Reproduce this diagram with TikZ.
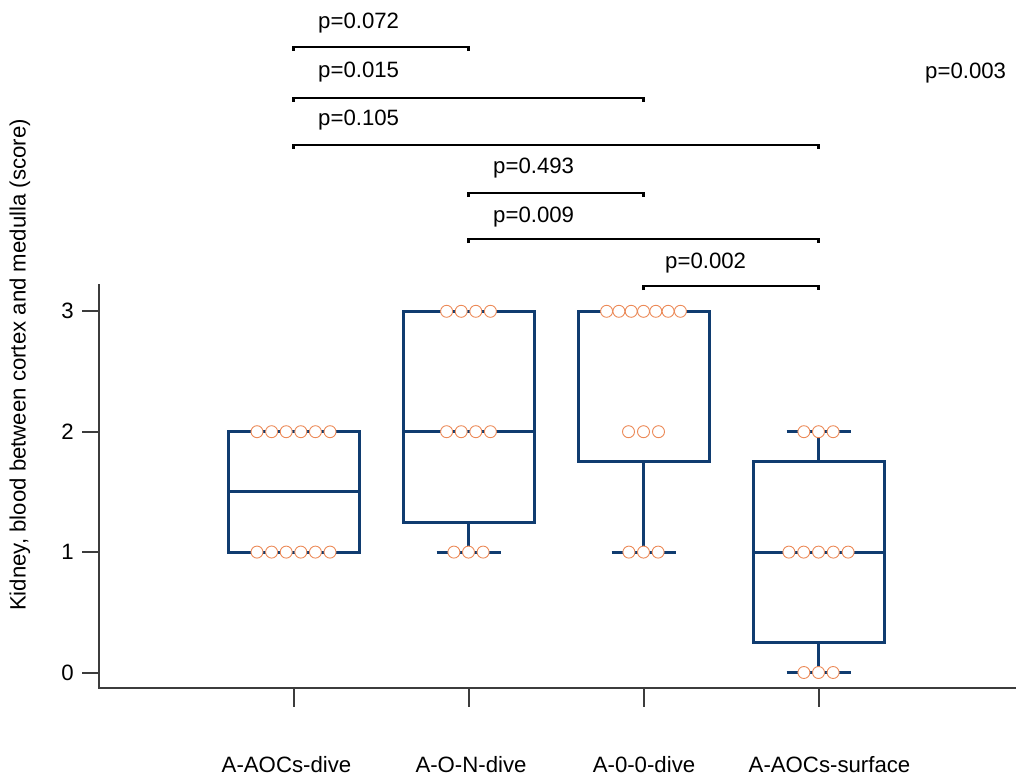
\documentclass[tikz,border=0pt]{standalone}
\usepackage{fontspec}
\setmainfont{Liberation Sans}
\definecolor{boxblue}{RGB}{16,60,112}
\definecolor{dotorange}{RGB}{236,138,88}
\definecolor{axisgray}{RGB}{60,60,60}
\begin{document}
\begin{tikzpicture}[x=1pt,y=-1pt,
  box/.style={draw=boxblue, line width=3pt},
  pt/.style={circle, draw=dotorange, fill=white, line width=0.9pt, minimum size=12pt, inner sep=0pt},
  axisline/.style={draw=axisgray, line width=2pt},
  sigbar/.style={draw=black, line width=2.5pt},
  lbl/.style={font=\fontsize{22.2}{26}\selectfont, text=black, inner sep=0pt}]
\useasboundingbox (0,0) rectangle (1016,778);

% axes
\coordinate (yaxtop) at (99,284);
\coordinate (origin) at (99,688);
\coordinate (xaxend) at (1016,688);
\draw[axisline] (yaxtop) -- (origin) -- (xaxend);

% y ticks
\foreach \v/\yy in {0/672.5,1/552.1,2/431.7,3/311.3}{
  \coordinate (yt\v) at (99,\yy);
  \draw[axisline] (yt\v) -- ++(-17,0);
  \node[lbl, anchor=east] (ytl\v) at (74,\yy) {\v};
}
% x ticks and category labels
\foreach \i/\xx/\lx/\name in {1/293.5/286.5/A-AOCs-dive,2/468.5/471/A-O-N-dive,3/643.5/644/A-0-0-dive,4/818.5/829.5/A-AOCs-surface}{
  \coordinate (xt\i) at (\xx,688);
  \draw[axisline] (xt\i) -- ++(0,19);
  \node[lbl] (cat\i) at (\lx,765) {\name};
}
% y label
\node[lbl, rotate=90] (ylab) at (20,365) {Kidney, blood between cortex and medulla (score)};

% box 1
\draw[box] (228,431.7) rectangle (359,552.1);
\draw[box] (228,491.9) -- (359,491.9);
% box 2
\draw[box] (468.5,522) -- (468.5,552.1);
\draw[box] (436.5,552.1) -- (500.5,552.1);
\draw[box] (403,311.3) rectangle (534,522);
\draw[box] (403,431.7) -- (534,431.7);
% box 3
\draw[box] (643.5,461.8) -- (643.5,552.1);
\draw[box] (611.5,552.1) -- (675.5,552.1);
\draw[box] (578,311.3) rectangle (709,461.8);
% box 4
\draw[box] (818.5,461.8) -- (818.5,431.7);
\draw[box] (786.5,431.7) -- (850.5,431.7);
\draw[box] (818.5,642.4) -- (818.5,672.5);
\draw[box] (786.5,672.5) -- (850.5,672.5);
\draw[box] (753,461.8) rectangle (884,642.4);
\draw[box] (753,552.1) -- (884,552.1);

% points: group/centre x/y/count/spacing
\foreach \g/\cx/\yy/\n/\s in {
  1/293.5/431.7/6/14.6, 1/293.5/552.1/6/14.6,
  2/468.5/311.3/4/14.6, 2/468.5/431.7/4/14.6, 2/468.5/552.1/3/14.6,
  3/643.5/311.3/7/12.3, 3/643.5/431.7/3/15, 3/643.5/552.1/3/14.6,
  4/818.5/431.7/3/14.6, 4/818.5/552.1/5/14.8, 4/818.5/672.5/3/14.6}{
  \foreach \k in {1,...,\n}{
    \pgfmathsetmacro\px{\cx+(\k-(\n+1)/2)*\s}
    \node[pt] (p\g-\yy-\k) at (\px,\yy) {};
  }
}

% significance bars
\foreach \b/\xa/\xb/\yy/\tx/\ty/\txt in {
  1/293.5/468.5/47/318/23/p=0.072,
  2/293.5/643.5/98/318/72/p=0.015,
  3/293.5/818.5/145/318/120/p=0.105,
  4/468.5/643.5/193/493/168/p=0.493,
  5/468.5/818.5/239/493/217/p=0.009,
  6/643.5/818.5/286/665/263/p=0.002}{
  \coordinate (ba\b) at (\xa,\yy);
  \coordinate (bb\b) at (\xb,\yy);
  \draw[sigbar] ([yshift=-4pt]ba\b) -- (ba\b) -- (bb\b) -- ([yshift=-4pt]bb\b);
  \node[lbl, anchor=west] (pt\b) at (\tx,\ty) {\txt};
}
\node[lbl, anchor=west] (poverall) at (925,73) {p=0.003};
\end{tikzpicture}
\end{document}
